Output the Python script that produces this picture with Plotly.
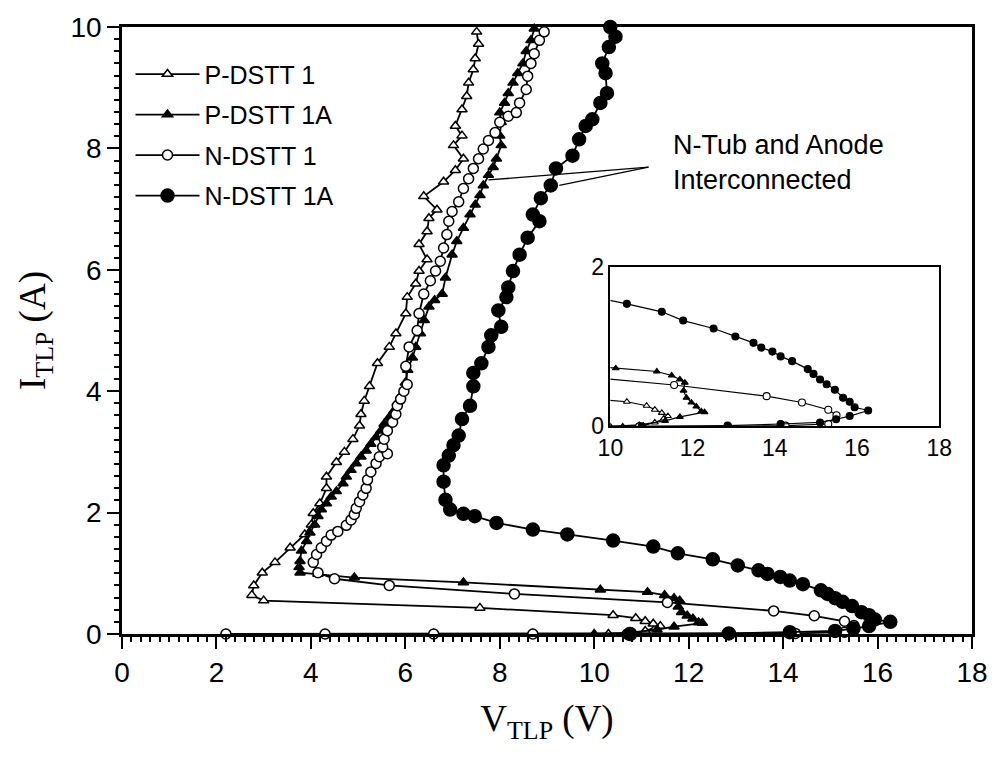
import plotly.graph_objects as go

# ---------------- data (V in volts, I in amperes) ----------------
p1_v = [2.2, 4.3, 6.6, 8.7, 10.3, 10.8, 11.08, 11.3, 11.4, 11.25, 11.08, 10.88, 10.40, 7.58, 3.0, 2.75,
        2.79, 2.97, 3.24, 3.56, 3.87, 4.01, 4.05, 4.19, 4.33, 4.33, 4.54, 4.71, 4.89, 5.03, 5.06, 5.13,
        5.24, 5.41, 5.66, 5.80, 6.01, 6.04, 6.22, 6.29, 6.46, 6.29, 6.46, 6.50, 6.67, 6.39, 6.81, 7.06,
        7.23, 7.02, 7.20, 7.06, 7.20, 7.30, 7.34, 7.44, 7.48, 7.55, 7.51]
p1_i = [0.0, 0.0, 0.0, 0.0, 0.0, 0.01, 0.05, 0.10, 0.13, 0.17, 0.21, 0.26, 0.31, 0.43, 0.55, 0.64,
        0.80, 1.01, 1.18, 1.42, 1.64, 1.80, 1.99, 2.15, 2.40, 2.59, 2.83, 3.00, 3.21, 3.43, 3.62, 3.84,
        4.08, 4.46, 4.73, 4.95, 5.28, 5.55, 5.77, 5.98, 6.17, 6.42, 6.63, 6.85, 6.99, 7.21, 7.45, 7.64,
        7.83, 8.05, 8.21, 8.37, 8.64, 8.86, 9.08, 9.30, 9.48, 9.72, 9.92]

p1a_v = [10.0, 10.7, 11.33, 11.69, 12.29, 12.21, 12.09, 11.97, 11.85, 11.78, 11.81,
         11.69, 11.49, 11.13, 10.13, 7.23, 4.92, 4.15, 3.77, 3.75, 3.77, 3.80, 3.91, 3.98, 4.08, 4.15,
         4.22, 4.33, 4.43, 4.54, 4.68, 4.75, 4.85, 4.96, 5.06, 5.17, 5.27, 5.38, 5.48, 5.55, 5.66, 5.76,
         5.83, 5.90, 6.00, 6.05, 6.15, 6.22, 6.32, 6.40, 6.50, 6.62, 6.78, 6.85, 6.99, 7.09, 7.23, 7.37,
         7.48, 7.58, 7.65, 7.76, 7.86, 7.93, 8.03, 8.00, 8.03, 8.00, 8.10, 8.18, 8.28, 8.38, 8.49, 8.56,
         8.66, 8.73]
p1a_i = [0.0, 0.02, 0.07, 0.12, 0.18, 0.19, 0.25, 0.30, 0.36, 0.45, 0.55,
         0.59, 0.64, 0.69, 0.73, 0.85, 0.93, 0.99, 1.01, 1.10, 1.20, 1.37, 1.53, 1.67, 1.80, 1.94,
         2.05, 2.15, 2.26, 2.35, 2.48, 2.59, 2.70, 2.81, 2.92, 3.02, 3.13, 3.24, 3.35, 3.46, 3.57, 3.68,
         3.81, 3.92, 4.14, 4.35, 4.55, 4.73, 4.95, 5.17, 5.39, 5.50, 5.60, 5.87, 6.25, 6.47, 6.69, 6.91,
         7.07, 7.23, 7.39, 7.56, 7.69, 7.83, 8.05, 8.21, 8.43, 8.59, 8.75, 8.91, 9.08, 9.24, 9.40, 9.60,
         9.78, 9.97]

n1_v = [2.2, 4.3, 6.6, 8.7, 10.7, 12.86, 14.26, 15.3, 15.5, 15.30, 14.66, 13.80, 11.55, 8.31, 5.66,
        4.50, 4.15, 4.05, 4.12, 4.22, 4.33, 4.43, 4.57, 4.75, 4.85, 4.92, 4.96, 5.03, 5.10, 5.17, 5.20,
        5.27, 5.38, 5.45, 5.62, 5.52, 5.55, 5.62, 5.73, 5.80, 5.83, 5.90, 5.97, 6.04, 6.01, 6.08, 6.25,
        6.29, 6.39, 6.53, 6.64, 6.74, 6.81, 6.88, 6.92, 6.99, 7.13, 7.23, 7.34, 7.44, 7.55, 7.65, 7.76,
        7.90, 8.00, 8.18, 8.35, 8.42, 8.56, 8.59, 8.66, 8.73, 8.84, 8.94]
n1_i = [0.0, 0.0, 0.0, 0.0, 0.0, 0.0, 0.01, 0.03, 0.14, 0.21, 0.30, 0.38, 0.52, 0.66, 0.80,
        0.91, 1.01, 1.18, 1.31, 1.42, 1.53, 1.63, 1.69, 1.79, 1.88, 1.97, 2.07, 2.18, 2.29, 2.40, 2.54,
        2.67, 2.81, 2.92, 2.97, 3.08, 3.21, 3.35, 3.49, 3.62, 3.76, 3.87, 4.00, 4.11, 4.41, 4.73, 5.00,
        5.28, 5.60, 5.82, 5.98, 6.14, 6.36, 6.58, 6.80, 6.96, 7.12, 7.34, 7.50, 7.67, 7.83, 7.99, 8.13,
        8.26, 8.43, 8.53, 8.59, 8.75, 8.97, 9.19, 9.40, 9.56, 9.78, 9.92]

n1a_v = [10.76, 12.85, 14.14, 15.10, 15.49, 15.82, 16.27, 15.94, 15.82, 15.66,
         15.46, 15.26, 15.10, 14.94, 14.80, 14.42, 14.14, 13.94, 13.67, 13.48, 13.04, 12.51, 11.77,
         11.25, 10.40, 9.43, 8.70, 7.93, 7.47, 7.23, 6.95, 6.85, 6.81, 6.81, 6.92, 7.02, 7.13, 7.20,
         7.37, 7.44, 7.44, 7.61, 7.76, 7.82, 8.03, 7.97, 8.14, 8.18, 8.28, 8.42, 8.59, 8.84, 8.70, 8.87,
         9.08, 9.19, 9.54, 9.68, 9.82, 9.96, 10.13, 10.27, 10.24, 10.17, 10.31, 10.45, 10.34]
n1a_i = [0.0, 0.01, 0.03, 0.05, 0.09, 0.13, 0.20, 0.24, 0.31, 0.36,
         0.46, 0.53, 0.59, 0.66, 0.72, 0.82, 0.88, 0.94, 0.99, 1.05, 1.13, 1.23, 1.33,
         1.44, 1.54, 1.64, 1.72, 1.83, 1.94, 1.98, 2.05, 2.21, 2.51, 2.78, 2.94, 3.11, 3.27, 3.54,
         3.76, 4.08, 4.30, 4.46, 4.73, 4.92, 5.06, 5.33, 5.55, 5.71, 5.98, 6.25, 6.53, 6.80, 6.91, 7.18,
         7.39, 7.67, 7.88, 8.15, 8.37, 8.48, 8.75, 8.91, 9.24, 9.40, 9.67, 9.84, 10.0]

series_names = ["P-DSTT 1", "P-DSTT 1A", "N-DSTT 1", "N-DSTT 1A"]
series_v = [p1_v, p1a_v, n1_v, n1a_v]
series_i = [p1_i, p1a_i, n1_i, n1a_i]

annotation_text = "N-Tub and Anode<br>Interconnected"
pointer_from = (11.15, 7.69)
pointer_to = [(7.76, 7.48), (9.26, 7.39)]

# ---------------- styles ----------------
styles = [
    dict(symbol="triangle-up", open=True, size=9),
    dict(symbol="triangle-up", open=False, size=9),
    dict(symbol="circle", open=True, size=10),
    dict(symbol="circle", open=False, size=13),
]
inset_sizes = [6, 6, 7, 7]

sans = "Liberation Sans, Arial, sans-serif"
serif = "Liberation Serif, Times New Roman, serif"

fig = go.Figure()
for k, (name, v, i, st) in enumerate(zip(series_names, series_v, series_i, styles)):
    fill = "white" if st["open"] else "black"
    fig.add_trace(go.Scatter(
        x=v, y=i, name=name, mode="lines+markers",
        line=dict(color="black", width=1.8),
        marker=dict(symbol=st["symbol"], size=st["size"], color=fill,
                    line=dict(color="black", width=1.5)),
        cliponaxis=False, legendgroup=name, showlegend=True,
        xaxis="x", yaxis="y"))
for k, (name, v, i, st) in enumerate(zip(series_names, series_v, series_i, styles)):
    fill = "white" if st["open"] else "black"
    fig.add_trace(go.Scatter(
        x=v, y=i, name=name, mode="lines+markers",
        line=dict(color="black", width=1.2),
        marker=dict(symbol=st["symbol"], size=inset_sizes[k], color=fill,
                    line=dict(color="black", width=1.1)),
        showlegend=False, xaxis="x2", yaxis="y2"))

# pointer lines
for tx, ty in pointer_to:
    fig.add_shape(type="line", xref="x", yref="y", x0=pointer_from[0], y0=pointer_from[1],
                  x1=tx, y1=ty, line=dict(color="black", width=1.3))

fig.add_annotation(text=annotation_text, xref="x", yref="y", x=11.62, y=7.76,
                   xanchor="left", yanchor="middle", align="left", showarrow=False,
                   font=dict(family=sans, size=27, color="black"))

fig.update_layout(
    width=1000, height=757,
    margin=dict(l=122, r=20, t=20, b=123),
    paper_bgcolor="white", plot_bgcolor="white",
    font=dict(family=sans, color="black", size=26),
    showlegend=True,
    legend=dict(x=0.01, y=0.96, xanchor="left", yanchor="top",
                bgcolor="rgba(0,0,0,0)", font=dict(family=sans, size=25, color="black"),
                tracegroupgap=5, itemwidth=64, traceorder="grouped"),
    xaxis=dict(range=[0, 18], dtick=2, tick0=0, showgrid=False, zeroline=False,
               showline=True, linecolor="black", linewidth=2.5, mirror=True,
               ticks="outside", ticklen=12, tickwidth=2, tickcolor="black",
               minor=dict(dtick=0.2, ticks="outside", ticklen=5, tickwidth=1.5, tickcolor="black"),
               tickfont=dict(family=sans, size=28, color="black"),
               title=dict(text="V<sub>TLP</sub> (V)", standoff=18,
                          font=dict(family=serif, size=37, color="black"))),
    yaxis=dict(range=[0, 10], dtick=2, tick0=0, showgrid=False, zeroline=False,
               showline=True, linecolor="black", linewidth=2.5, mirror=True,
               ticks="outside", ticklen=12, tickwidth=2, tickcolor="black",
               minor=dict(dtick=0.2, ticks="outside", ticklen=5, tickwidth=1.5, tickcolor="black"),
               tickfont=dict(family=sans, size=28, color="black"),
               title=dict(text="I<sub>TLP</sub> (A)", standoff=14,
                          font=dict(family=serif, size=37, color="black"))),
    xaxis2=dict(domain=[0.5746, 0.9615], anchor="y2", range=[10, 18], dtick=2,
                showgrid=False, zeroline=False, showline=True, linecolor="black",
                linewidth=1.5, mirror=True, ticks="",
                tickfont=dict(family=sans, size=23, color="black")),
    yaxis2=dict(domain=[0.342, 0.6042], anchor="x2", range=[0, 2], dtick=2,
                showgrid=False, zeroline=False, showline=True, linecolor="black",
                linewidth=1.5, mirror=True, ticks="",
                tickfont=dict(family=sans, size=23, color="black")),
)

fig.write_html("out.html")
